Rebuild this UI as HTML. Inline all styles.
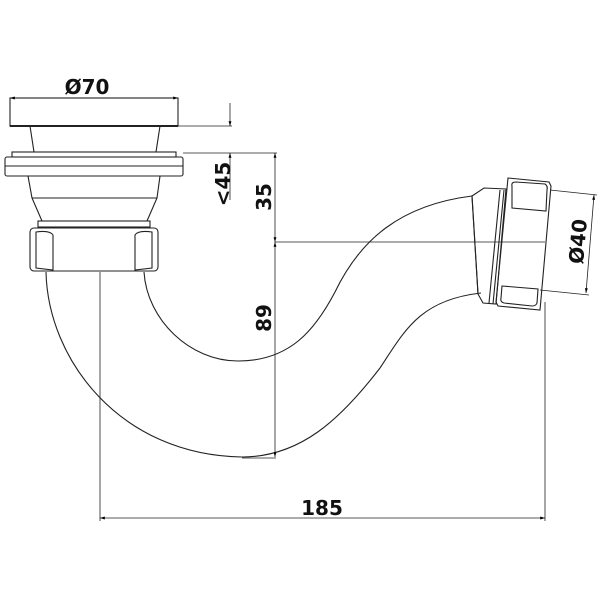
<!DOCTYPE html>
<html><head><style>html,body{margin:0;padding:0;background:#fff}svg{display:block}</style></head>
<body>
<svg width="600" height="600" viewBox="0 0 600 600" xmlns="http://www.w3.org/2000/svg">
<defs>
<marker id="a" viewBox="0 0 10 10" refX="10" refY="5" markerWidth="8" markerHeight="6" orient="auto-start-reverse"><path d="M0,2 L10,5 L0,8z" fill="#000"/></marker>
</defs>
<g fill="none" stroke="#222" stroke-width="1.1">
<rect x="10" y="98" width="168" height="28" fill="none"/>
<line x1="10" y1="126" x2="178" y2="126" stroke-width="2"/>
<path d="M30,126 L34,152 M160,126 L156,152"/>
<rect x="5" y="157" width="178" height="19" rx="2"/>
<rect x="12" y="152" width="164" height="5"/>
<line x1="5" y1="166" x2="183" y2="166"/>
<path d="M28,176 L32,198 L42,221 M160,176 L157,198 L147,221"/>
<line x1="32" y1="198" x2="157" y2="198"/>
<rect x="38" y="221" width="112" height="6"/>
<rect x="30" y="228" width="128" height="43" rx="4"/>
<path d="M36,232 Q50,230 53,235 L53,270 L36,268 Q36,250 36,232z"/>
<path d="M152,232 Q138,230 135,235 L135,270 L152,268 Q152,250 152,232z"/>
<path d="M46,272 C48,360 120,455 242,457 C300,457 340,420 380,368 C405,330 420,300 481,293"/>
<path d="M144,272 C147,320 190,361 238,361 C290,361 315,330 335,292 C360,240 400,205 472,196"/>
<path d="M472,196 L484,188 L506,189 L496,304 L483,303 L478,294 Z"/>
<line x1="472" y1="196" x2="478" y2="294"/>
<line x1="500" y1="190" x2="489" y2="303"/>
<line x1="504" y1="190" x2="493" y2="304"/>
<path d="M508,178 L549,182 L551,186 L540,310 L498,306 L496,302 Z"/>
<path d="M512,186 Q511,182 516,182 L545,184 Q548,186 547,190 L546,211 L512,208 Z"/>
<path d="M502,286 L538,289 L537,303 Q536,306 532,306 L504,303 Q500,302 501,298 Z"/>
</g>
<g stroke="#222" stroke-width="0.8" fill="none">
<line x1="10" y1="98" x2="178" y2="98" marker-start="url(#a)" marker-end="url(#a)"/>
<line x1="178" y1="126" x2="232" y2="126"/>
<line x1="183" y1="153" x2="277" y2="153"/>
<line x1="230" y1="103" x2="230" y2="126" marker-end="url(#a)"/>
<line x1="230" y1="200" x2="230" y2="153" marker-end="url(#a)"/>
<line x1="275" y1="153" x2="275" y2="242" marker-start="url(#a)" marker-end="url(#a)"/>
<line x1="275" y1="242" x2="275" y2="457" marker-start="url(#a)" marker-end="url(#a)"/>
<line x1="275" y1="242" x2="545" y2="242"/>
<line x1="242" y1="458" x2="276" y2="458"/>
<line x1="100" y1="272" x2="100" y2="521"/>
<line x1="545" y1="302" x2="545" y2="521"/>
<line x1="100" y1="518" x2="545" y2="518" marker-start="url(#a)" marker-end="url(#a)"/>
<line x1="550" y1="190" x2="597" y2="195"/>
<line x1="540" y1="290" x2="589" y2="295"/>
<line x1="594" y1="195" x2="586" y2="293" marker-start="url(#a)" marker-end="url(#a)"/>
</g>
<g font-family="'DejaVu Sans', 'Liberation Sans', sans-serif" font-weight="bold" font-size="20" fill="#111" text-anchor="middle">
<text x="87" y="94">Ø70</text>
<text x="322" y="515">185</text>
<text transform="translate(230,184) rotate(-90)">&lt;45</text>
<text transform="translate(271,197) rotate(-90)">35</text>
<text transform="translate(271,318) rotate(-90)">89</text>
<text transform="translate(585,242) rotate(-85)">Ø40</text>
</g>
</svg>
</body></html>
